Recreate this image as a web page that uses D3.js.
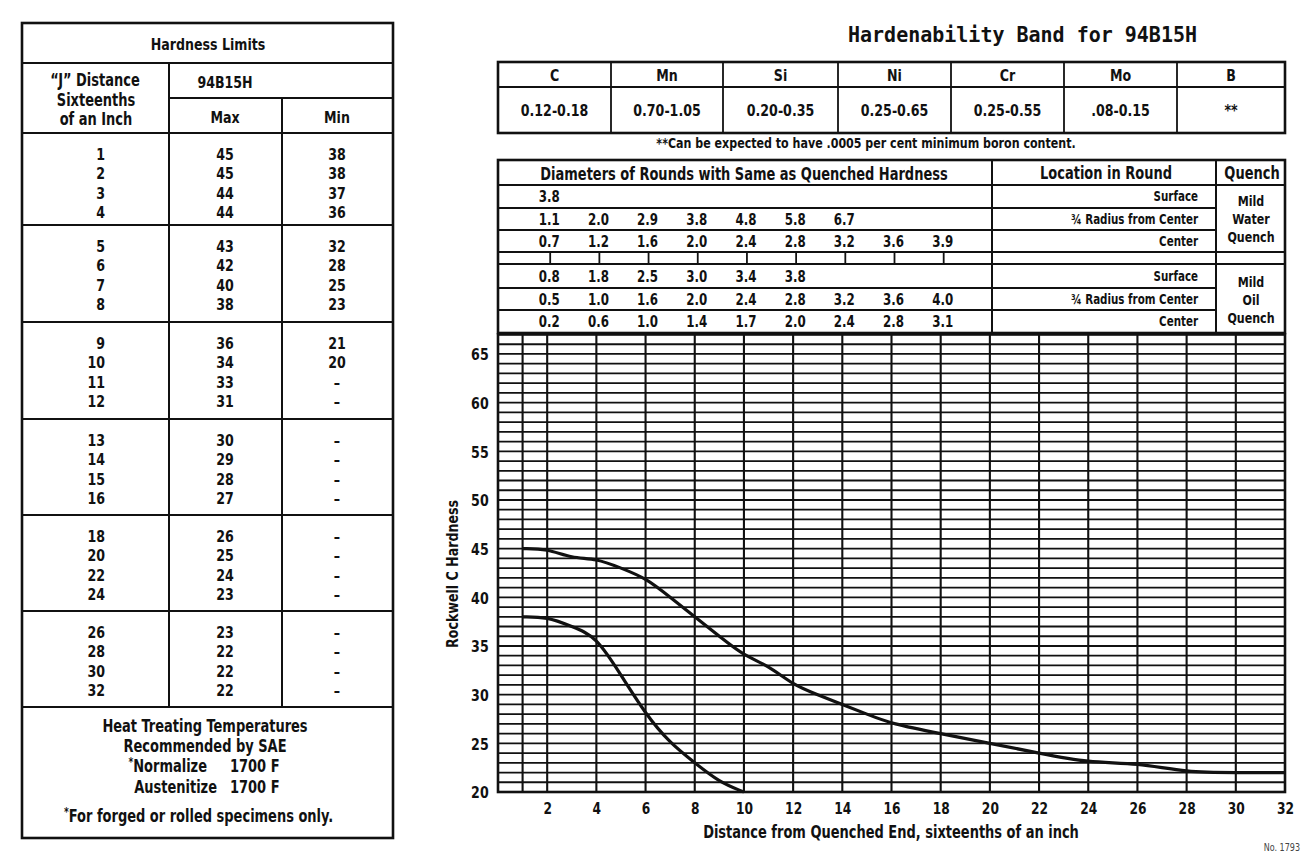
<!DOCTYPE html>
<html><head><meta charset="utf-8">
<script src="https://cdn.jsdelivr.net/npm/d3@7"></script>
<style>
body{margin:0;background:#fff;}
svg{display:block;}
text{font-family:"Liberation Sans Narrow","DejaVu Sans Condensed","DejaVu Sans",sans-serif;font-weight:bold;fill:#111;}
</style></head><body>
<svg id="c" width="1311" height="862"></svg>
<script>
// ---------- data ----------
const distances = [1,2,3,4,5,6,7,8,9,10,11,12,13,14,15,16,18,20,22,24,26,28,30,32];
const maxHardness = [45,45,44,44,43,42,40,38,36,34,33,31,30,29,28,27,26,25,24,23,23,22,22,22];
const minHardness = [38,38,37,36,32,28,25,23,21,20];
const elements = ["C","Mn","Si","Ni","Cr","Mo","B"];
const compositions = ["0.12-0.18","0.70-1.05","0.20-0.35","0.25-0.65","0.25-0.55",".08-0.15","**"];
const roundPositions = [2,4,6,8,10,12,14,16,18];
const waterSurface = [3.8];
const waterThreeQuarter = [1.1,2.0,2.9,3.8,4.8,5.8,6.7];
const waterCenter = [0.7,1.2,1.6,2.0,2.4,2.8,3.2,3.6,3.9];
const oilSurface = [0.8,1.8,2.5,3.0,3.4,3.8];
const oilThreeQuarter = [0.5,1.0,1.6,2.0,2.4,2.8,3.2,3.6,4.0];
const oilCenter = [0.2,0.6,1.0,1.4,1.7,2.0,2.4,2.8,3.1];
const locations = ["Surface","¾ Radius from Center","Center"];
const xTicks = [2,4,6,8,10,12,14,16,18,20,22,24,26,28,30,32];
const yTicks = [20,25,30,35,40,45,50,55,60,65];

// ---------- helpers ----------
const SX = 0.85;
const svg = d3.select("#c");
const ink = "#111";
function ln(g,x1,y1,x2,y2,w){ g.append("line").attr("x1",x1).attr("y1",y1).attr("x2",x2).attr("y2",y2).attr("stroke",ink).attr("stroke-width",w||1.8); }
function tx(g,x,y,s,anchor,size){
  return g.append("text").attr("x",0).attr("y",0)
    .attr("transform",`translate(${x},${y}) scale(${SX},1)`)
    .attr("text-anchor",anchor||"middle").attr("font-size",size||16).text(s);
}

// ---------- left table ----------
const lt = svg.append("g");
const L=22,R=393,T=23,B=838,c1=169,c2=282;
lt.append("rect").attr("x",L).attr("y",T).attr("width",R-L).attr("height",B-T).attr("fill","none").attr("stroke",ink).attr("stroke-width",2.6);
ln(lt,L,63,R,63,2.2);
ln(lt,c1,98,R,98,2);
const groupTops=[133,225,322,419,515,611,707];
groupTops.forEach(y=>ln(lt,L,y,R,y,2.2));
ln(lt,c1,63,c1,707,2);
ln(lt,c2,98,c2,707,2);
tx(lt,208,50,"Hardness Limits","middle",16.5);
tx(lt,95,86,"“J” Distance","middle",17);
tx(lt,96,106,"Sixteenths","middle",17);
tx(lt,96,125,"of an Inch","middle",17);
tx(lt,225,88,"94B15H","middle",16.5);
tx(lt,225,123,"Max","middle",16.5);
tx(lt,337,123,"Min","middle",16.5);
distances.forEach((d,i)=>{
  const g=Math.floor(i/4), r=i%4;
  const y=groupTops[g]+27+r*19.3;
  tx(lt,105,y,d,"end",16.5);
  tx(lt,225,y,maxHardness[i],"middle",16.5);
  tx(lt,337,y,i<minHardness.length?minHardness[i]:"–","middle",16.5);
});
tx(lt,205,732,"Heat Treating Temperatures","middle",17);
tx(lt,205,752,"Recommended by SAE","middle",17);
const nt = tx(lt,207,772,"","end",17);
nt.append("tspan").attr("font-size",12).attr("dy",-6).text("*");
nt.append("tspan").attr("dy",6).text("Normalize");
tx(lt,230,772,"1700 F","start",17);
tx(lt,217,793,"Austenitize","end",17);
tx(lt,230,793,"1700 F","start",17);
const ft = tx(lt,64,822,"","start",17);
ft.append("tspan").attr("font-size",12).attr("dy",-6).text("*");
ft.append("tspan").attr("dy",6).text("For forged or rolled specimens only.");

// ---------- title ----------
svg.append("text").attr("x",848).attr("y",42).attr("font-size",22)
  .style("font-family","'DejaVu Sans Mono','Liberation Mono',monospace")
  .attr("textLength",349).attr("lengthAdjust","spacingAndGlyphs")
  .text("Hardenability Band for 94B15H");

// ---------- composition table ----------
const ct = svg.append("g");
const XL=498, XR=1285;
ct.append("rect").attr("x",XL).attr("y",62).attr("width",XR-XL).attr("height",71).attr("fill","none").attr("stroke",ink).attr("stroke-width",2.6);
ln(ct,XL,87,XR,87,2);
const colEdges=[XL,611,723,838,951,1064,1177,XR];
colEdges.slice(1,-1).forEach(x=>ln(ct,x,62,x,133,1.8));
elements.forEach((e,i)=>{
  const cx=(colEdges[i]+colEdges[i+1])/2;
  tx(ct,cx,81,e,"middle",16.5);
  tx(ct,cx,116,compositions[i],"middle",16.5);
});
tx(ct,866,148,"**Can be expected to have  .0005  per cent minimum boron content.","middle",14.5);

// ---------- chart scales ----------
const x = d3.scaleLinear().domain([0,32]).range([498,1285]);
const y = d3.scaleLinear().domain([20,67]).range([792,334.5]);

// ---------- diameters table ----------
const dt = svg.append("g");
const locX=992, qX=1216, dTop=160;
const rowLines=[185,208,230,252,264,288,310,333];
dt.append("rect").attr("x",XL).attr("y",dTop).attr("width",XR-XL).attr("height",333-dTop).attr("fill","none").attr("stroke",ink).attr("stroke-width",2.6);
rowLines.forEach(yy=>{
  const full = (yy===185||yy===252||yy===264||yy===333);
  ln(dt,XL,yy,full?XR:qX,yy,1.8);
});
ln(dt,locX,dTop,locX,333,2);
ln(dt,qX,dTop,qX,333,2);
tx(dt,744,180,"Diameters of Rounds with Same as Quenched Hardness","middle",17);
tx(dt,1106,179,"Location in Round","middle",17);
tx(dt,1252,179,"Quench","middle",17);
const rowsData=[waterSurface,waterThreeQuarter,waterCenter,oilSurface,oilThreeQuarter,oilCenter];
const rowBands=[[185,208],[208,230],[230,252],[264,288],[288,310],[310,333]];
const fmt=d3.format(".1f");
rowsData.forEach((arr,ri)=>{
  const [a,b]=rowBands[ri];
  const by=(a+b)/2+5.5;
  arr.forEach((v,j)=>tx(dt,x(roundPositions[j])+2,by,fmt(v),"middle",15.5));
  tx(dt,1198,by-1,locations[ri%3],"end",13.5);
});
roundPositions.forEach(p=>ln(dt,x(p)+3,252,x(p)+3,264,1.8));
[["Mild",206],["Water",224],["Quench",242],["Mild",287],["Oil",305],["Quench",323]].forEach(([s,yy])=>tx(dt,1251,yy,s,"middle",14.5));

// ---------- chart grid ----------
const ch = svg.append("g");
d3.range(21,67).forEach(v=>ln(ch,x(0),y(v),x(32),y(v),1.8));
[1].concat(xTicks.slice(0,-1)).forEach(v=>ln(ch,x(v),y(67),x(v),y(20),2.1));
ch.append("rect").attr("x",x(0)).attr("y",y(67)).attr("width",x(32)-x(0)).attr("height",y(20)-y(67)).attr("fill","none").attr("stroke",ink).attr("stroke-width",2.6);

// curves
const maxPts=distances.map((d,i)=>[d,maxHardness[i]]);
const minPts=minHardness.map((v,i)=>[distances[i],v]);
const lineGen=d3.line().x(d=>x(d[0])).y(d=>y(d[1])).curve(d3.curveBasis);
ch.append("path").datum(maxPts).attr("fill","none").attr("stroke",ink).attr("stroke-width",3.2).attr("d",lineGen);
ch.append("path").datum(minPts).attr("fill","none").attr("stroke",ink).attr("stroke-width",3.2).attr("d",lineGen);

// axes
const ya = ch.append("g").attr("transform",`translate(${x(0)},0)`)
  .call(d3.axisLeft(y).tickValues(yTicks).tickSize(0).tickPadding(11));
ya.select(".domain").remove();
ya.selectAll("text").attr("font-size",16.5).attr("dy","0.36em").attr("transform",`scale(${SX},1)`);
const xa = ch.append("g").attr("transform",`translate(0,${y(20)})`)
  .call(d3.axisBottom(x).tickValues(xTicks).tickSize(0).tickPadding(11));
xa.select(".domain").remove();
xa.selectAll("text").attr("font-size",16).attr("transform",`scale(${SX},1)`);
svg.selectAll(".tick text").attr("fill",ink).attr("font-family",null);

tx(ch,891,838,"Distance from Quenched End, sixteenths of an inch","middle",17);
ch.append("text").attr("transform","translate(458,574) rotate(-90) scale(0.85,1)")
  .attr("text-anchor","middle").attr("font-size",16.5).text("Rockwell C Hardness");
tx(svg,1300,851,"No. 1793","end",10.5).style("font-weight","normal").style("fill","#444");
</script>
</body></html>
